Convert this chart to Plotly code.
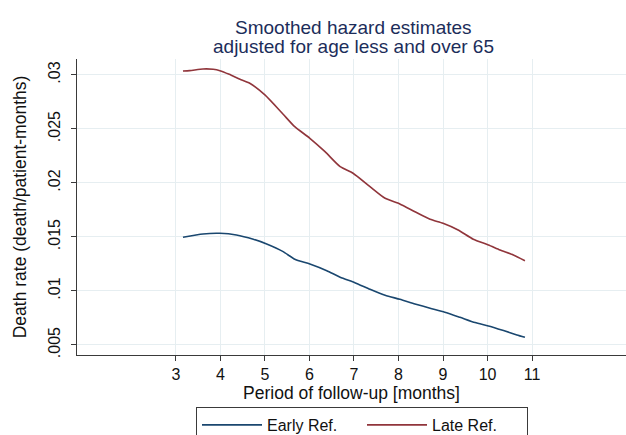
import plotly.graph_objects as go

# Data
early_x = [3.16, 3.61, 3.99, 4.36, 4.74, 5.04, 5.41, 5.67, 6.01, 6.39, 6.69, 7.02,
           7.36, 7.70, 8.03, 8.37, 8.71, 9.04, 9.38, 9.72, 10.02, 10.36, 10.66, 10.84]
early_y = [0.01497, 0.01528, 0.01534, 0.01519, 0.01479, 0.01435, 0.01364, 0.01294,
           0.01250, 0.01188, 0.01127, 0.01077, 0.01016, 0.00960, 0.00923, 0.00880,
           0.00840, 0.00803, 0.00756, 0.00707, 0.00676, 0.00633, 0.00593, 0.00571]

late_x = [3.16, 3.31, 3.61, 3.84, 3.99, 4.20, 4.44, 4.66, 5.00, 5.41, 5.67, 6.01,
          6.35, 6.69, 6.98, 7.36, 7.70, 8.03, 8.37, 8.71, 9.00, 9.34, 9.68, 10.02,
          10.28, 10.58, 10.84]
late_y = [0.03037, 0.03040, 0.03056, 0.03053, 0.03040, 0.03006, 0.02960, 0.02923,
          0.02815, 0.02636, 0.02521, 0.02414, 0.02290, 0.02151, 0.02090, 0.01966,
          0.01858, 0.01806, 0.01734, 0.01664, 0.01627, 0.01565, 0.01479, 0.01426,
          0.01380, 0.01333, 0.01280]

x_ticks = [3, 4, 5, 6, 7, 8, 9, 10, 11]
y_ticks = [0.005, 0.01, 0.015, 0.02, 0.025, 0.03]
y_tick_labels = [".005", ".01", ".015", ".02", ".025", ".03"]

series_names = ["Early Ref.", "Late Ref."]
title_lines = ["Smoothed hazard estimates", "adjusted for age less and over 65"]

FONT = "Liberation Sans, Arial, sans-serif"
GRID = "#e6eef1"
AXIS = "#3a3a3a"
TITLE_COLOR = "#1c2d5a"

fig = go.Figure()
fig.add_trace(go.Scatter(x=early_x, y=early_y, mode="lines", name=series_names[0],
                         line=dict(color="#1a476f", width=1.6, shape="spline", smoothing=0.6)))
fig.add_trace(go.Scatter(x=late_x, y=late_y, mode="lines", name=series_names[1],
                         line=dict(color="#90353b", width=1.6, shape="spline", smoothing=0.6)))

fig.update_layout(
    width=626, height=435,
    margin=dict(l=77, r=0, t=59, b=80, autoexpand=False),
    paper_bgcolor="white", plot_bgcolor="white",
    font=dict(family=FONT, color="#111111", size=16),
    showlegend=True,
    legend=dict(orientation="h", x=(196 - 77) / 549, xanchor="left", y=-0.1757, yanchor="top",
                bordercolor=AXIS, borderwidth=1, font=dict(size=16, color="#111111"),
                itemwidth=60, entrywidth=90, traceorder="normal"),
    annotations=[
        dict(text=title_lines[0], x=0.503, y=(355 - 27) / 296, xref="paper", yref="paper",
             xanchor="center", yanchor="middle", showarrow=False,
             font=dict(size=19, color=TITLE_COLOR, family=FONT)),
        dict(text=title_lines[1], x=0.503, y=(355 - 46) / 296, xref="paper", yref="paper",
             xanchor="center", yanchor="middle", showarrow=False,
             font=dict(size=19, color=TITLE_COLOR, family=FONT)),
    ],
)

fig.update_xaxes(
    range=[0.78, 13.11], tickvals=x_ticks, ticks="outside", ticklen=5, tickwidth=1,
    tickcolor=AXIS, showline=True, linecolor=AXIS, linewidth=1, mirror=False,
    showgrid=True, gridcolor=GRID, gridwidth=1.2, zeroline=False,
    tickfont=dict(size=16),
    title=dict(text="Period of follow-up [months]", font=dict(size=17.5), standoff=0),
)
fig.update_yaxes(
    range=[0.00407, 0.03148], tickvals=y_ticks, ticktext=y_tick_labels, tickangle=-90,
    ticks="outside", ticklen=5, tickwidth=1, tickcolor=AXIS, ticklabelstandoff=5,
    showline=True, linecolor=AXIS, linewidth=1, mirror=False,
    showgrid=True, gridcolor=GRID, gridwidth=1.2, zeroline=False,
    tickfont=dict(size=16),
    title=dict(text="Death rate (death/patient-months)", font=dict(size=17.5), standoff=14),
)

fig.write_html("out.html")
